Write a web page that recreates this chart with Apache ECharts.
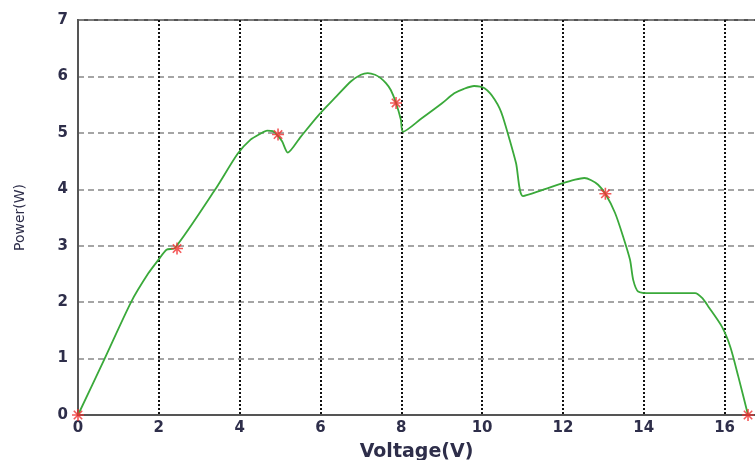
<!DOCTYPE html>
<html>
<head>
<meta charset="utf-8">
<script src="https://cdn.jsdelivr.net/npm/echarts@6/dist/echarts.min.js"></script>
<style>
  html, body { margin: 0; padding: 0; background: #fff; }
  #chart { width: 755px; height: 460px; }
</style>
</head>
<body>
<div id="chart"></div>
<script>
// P-V curve
var voltage = [0, 0.66, 1.32, 1.74, 1.99, 2.19, 2.40, 3.39, 3.95, 4.27, 4.50, 4.68, 4.82, 4.93, 5.05, 5.19,
  5.51, 5.96, 6.40, 6.75, 7.00, 7.17, 7.35, 7.49, 7.62, 7.74, 7.87, 7.99, 8.04,
  8.49, 9.00, 9.31, 9.55, 9.80, 9.95, 10.06, 10.20, 10.31, 10.43, 10.51, 10.68, 10.84, 11.01,
  11.50, 11.96, 12.30, 12.53, 12.70, 12.87, 13.05, 13.29, 13.49, 13.66, 13.74, 13.86,
  14.19, 15.27, 15.45, 15.60, 15.93, 16.14, 16.34, 16.58];
var power = [0, 1.00, 2.01, 2.51, 2.75, 2.93, 2.96, 3.99, 4.63, 4.88, 4.98, 5.04, 5.03, 4.96, 4.85, 4.65,
  4.93, 5.32, 5.65, 5.91, 6.03, 6.06, 6.03, 5.97, 5.88, 5.76, 5.53, 5.23, 5.02,
  5.25, 5.52, 5.70, 5.78, 5.83, 5.82, 5.79, 5.70, 5.59, 5.44, 5.29, 4.88, 4.46, 3.88,
  3.99, 4.10, 4.17, 4.20, 4.16, 4.08, 3.92, 3.58, 3.16, 2.75, 2.39, 2.19,
  2.16, 2.16, 2.07, 1.92, 1.57, 1.21, 0.68, 0];

// red star markers
var starV = [0, 2.45, 4.95, 7.87, 13.05, 16.58];
var starP = [0, 2.95, 4.97, 5.53, 3.92, 0];

var chart = echarts.init(document.getElementById('chart'));

var curve = voltage.map(function (v, i) { return [v, power[i]]; });
var stars = starV.map(function (v, i) { return [v, starP[i]]; });

var labelStyle = {
  color: '#2e2e4a',
  fontFamily: 'DejaVu Sans',
  fontWeight: 'bold',
  fontSize: 15
};

chart.setOption({
  animation: false,
  backgroundColor: '#fff',
  grid: {
    left: 78,
    top: 20,
    right: -10,
    bottom: 45,
    outerBoundsMode: 'none',
    show: true,
    borderColor: '#555',
    borderWidth: 2
  },
  xAxis: {
    type: 'value',
    min: 0,
    max: 17,
    interval: 2,
    name: 'Voltage(V)',
    nameLocation: 'middle',
    nameGap: 28,
    nameTextStyle: {
      color: '#2e2e4a',
      fontFamily: 'DejaVu Sans',
      fontWeight: 'bold',
      fontSize: 19,
      padding: [0, 10, 0, 0]
    },
    axisLine: { show: true, lineStyle: { color: '#555', width: 2 } },
    axisTick: { show: false },
    axisLabel: Object.assign({ margin: 6, showMaxLabel: false }, labelStyle),
    splitLine: { show: true, lineStyle: { color: '#111', type: 'dotted', width: 2 } }
  },
  yAxis: {
    type: 'value',
    min: 0,
    max: 7,
    interval: 1,
    name: 'Power(W)',
    nameLocation: 'middle',
    nameGap: 51,
    nameTextStyle: {
      color: '#2e2e4a',
      fontFamily: 'DejaVu Sans',
      fontSize: 14
    },
    axisLine: { show: true, lineStyle: { color: '#555', width: 2 } },
    axisTick: { show: false },
    axisLabel: Object.assign({ margin: 10 }, labelStyle),
    splitLine: { show: true, lineStyle: { color: '#888', type: [6, 4], width: 1.5 } }
  },
  series: [
    {
      type: 'line',
      data: curve,
      smooth: 0.25,
      showSymbol: false,
      lineStyle: { color: '#3aa93a', width: 1.8 },
      z: 3
    },
    {
      type: 'scatter',
      data: stars,
      symbol: 'path://M0,-6L0,6M-6,0L6,0M-4.2,-4.2L4.2,4.2M-4.2,4.2L4.2,-4.2',
      symbolSize: 12,
      itemStyle: { color: 'none', borderColor: '#f03030', borderWidth: 1.6 },
      clip: false,
      z: 4
    }
  ]
});
</script>
</body>
</html>
